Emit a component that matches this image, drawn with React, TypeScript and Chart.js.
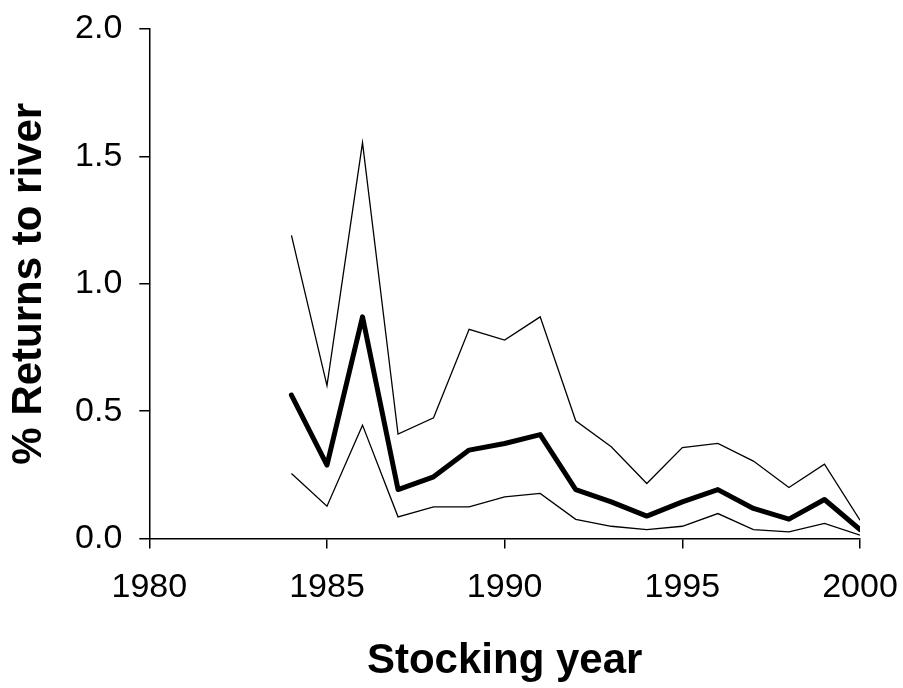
import React, { useEffect, useRef } from "react";
import { Chart, registerables } from "chart.js";

Chart.register(...registerables);

const years = [1984, 1985, 1986, 1987, 1988, 1989, 1990, 1991, 1992, 1993, 1994, 1995, 1996, 1997, 1998, 1999, 2000];
const upperValues = [1.19, 0.6, 1.554, 0.41, 0.474, 0.821, 0.779, 0.87, 0.462, 0.36, 0.216, 0.357, 0.373, 0.304, 0.2, 0.292, 0.072];
const meanValues = [0.563, 0.288, 0.87, 0.192, 0.242, 0.347, 0.373, 0.408, 0.192, 0.144, 0.088, 0.144, 0.192, 0.118, 0.076, 0.153, 0.035];
const lowerValues = [0.255, 0.127, 0.445, 0.085, 0.124, 0.124, 0.163, 0.177, 0.075, 0.048, 0.035, 0.048, 0.098, 0.035, 0.026, 0.059, 0.013];
const xTicks = [1980, 1985, 1990, 1995, 2000];
const yTicks = [0, 0.5, 1.0, 1.5, 2.0];
const xTitle = "Stocking year";
const yTitle = "% Returns to river";

const FONT = "'Liberation Sans', Arial, Helvetica, sans-serif";

export default function App() {
  const canvasRef = useRef<HTMLCanvasElement | null>(null);

  useEffect(() => {
    const canvas = canvasRef.current;
    if (!canvas) return;
    const toPts = (vals: number[]) => years.map((y, i) => ({ x: y, y: vals[i] }));
    const common = { borderColor: "#000", pointRadius: 0, pointHoverRadius: 0, pointBorderWidth: 0, tension: 0, fill: false };
    const chart = new Chart(canvas, {
      type: "line",
      data: {
        datasets: [
          { label: "Upper", data: toPts(upperValues), borderWidth: 1.3, ...common },
          { label: "Mean", data: toPts(meanValues), borderWidth: 5, borderJoinStyle: "round", borderCapStyle: "round", ...common },
          { label: "Lower", data: toPts(lowerValues), borderWidth: 1.3, ...common },
        ],
      },
      options: {
        responsive: false,
        animation: false,
        devicePixelRatio: 1,
        layout: { autoPadding: false, padding: { left: 0, top: 29, right: 43, bottom: 0 } },
        plugins: { legend: { display: false }, tooltip: { enabled: false } },
        scales: {
          x: {
            type: "linear",
            min: xTicks[0],
            max: xTicks[xTicks.length - 1],
            afterBuildTicks: (scale: any) => {
              scale.ticks = xTicks.map((v) => ({ value: v }));
            },
            afterFit: (scale: any) => {
              scale.height = 149.5;
              scale.paddingLeft = 0;
              scale.paddingRight = 0;
            },
            border: { display: true, color: "#000", width: 1.5 },
            grid: { drawOnChartArea: false, drawTicks: true, tickLength: 10, color: "#000", lineWidth: 1.5 },
            ticks: {
              color: "#000",
              padding: 19,
              maxRotation: 0,
              font: { family: FONT, size: 34 },
              callback: (v: any) => String(v),
            },
            title: {
              display: true,
              text: xTitle,
              color: "#000",
              font: { family: FONT, size: 42, weight: "bold" },
              padding: { top: 0, bottom: 1 },
            },
          },
          y: {
            type: "linear",
            min: yTicks[0],
            max: yTicks[yTicks.length - 1],
            afterBuildTicks: (scale: any) => {
              scale.ticks = yTicks.map((v) => ({ value: v }));
            },
            afterFit: (scale: any) => {
              scale.width = 149.3;
              scale.paddingTop = 0;
              scale.paddingBottom = 0;
            },
            border: { display: true, color: "#000", width: 1.5 },
            grid: { drawOnChartArea: false, drawTicks: true, tickLength: 10, color: "#000", lineWidth: 1.5 },
            ticks: {
              color: "#000",
              padding: 17,
              font: { family: FONT, size: 34 },
              callback: (v: any) => Number(v).toFixed(1),
            },
            title: {
              display: true,
              text: yTitle,
              color: "#000",
              font: { family: FONT, size: 42, weight: "bold" },
              padding: { top: 4, bottom: 0 },
            },
          },
        },
      },
    });
    return () => chart.destroy();
  }, []);

  return (
    <div style={{ position: "fixed", left: 0, top: 0, width: 903, height: 688, background: "#fff" }}>
      <canvas ref={canvasRef} width={903} height={688} />
    </div>
  );
}
